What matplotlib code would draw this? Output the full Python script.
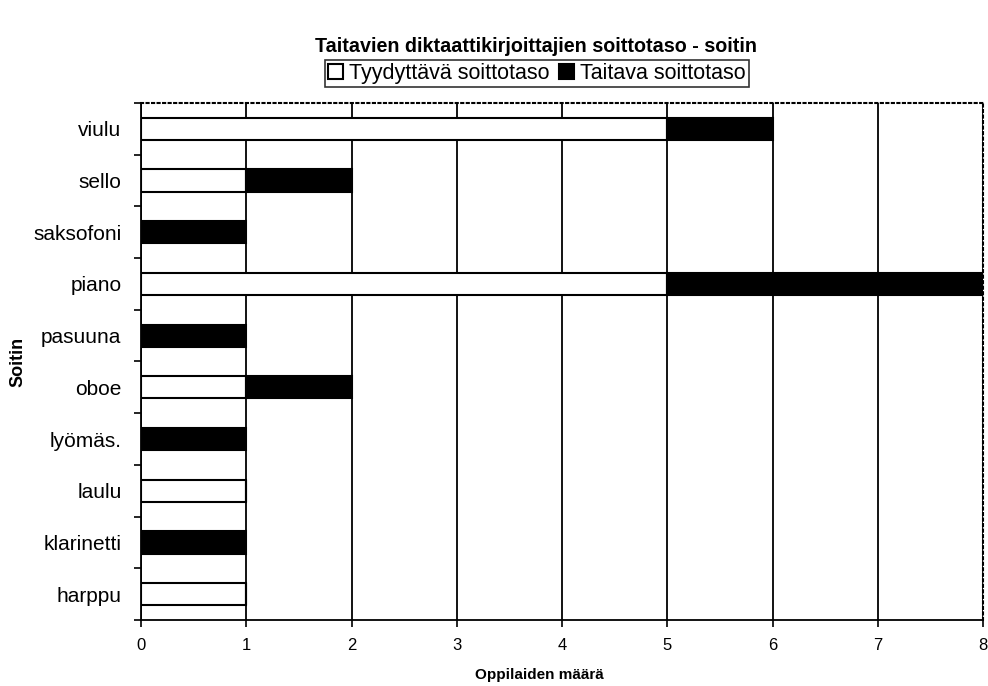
import numpy as np
import matplotlib
matplotlib.use("Agg")
import matplotlib.pyplot as plt

# Data (bottom to top)
soittimet = ["harppu", "klarinetti", "laulu", "lyömäs.", "oboe",
             "pasuuna", "piano", "saksofoni", "sello", "viulu"]
tyydyttava = [1, 0, 1, 0, 1, 0, 5, 0, 1, 5]
taitava = [0, 1, 0, 1, 1, 1, 3, 1, 1, 1]
x_ticks = [0, 1, 2, 3, 4, 5, 6, 7, 8]

plt.rcParams['font.family'] = ['Liberation Sans', 'DejaVu Sans']

fig = plt.figure(figsize=(9.88, 6.86), dpi=100)
ax = fig.add_axes([0.1427, 0.0962, 0.8523, 0.7537])

y = np.arange(len(soittimet))
h = 0.43
ax.barh(y, tyydyttava, height=h, color="white", edgecolor="black",
        linewidth=1.5, label="Tyydyttävä soittotaso", zorder=3)
ax.barh(y, taitava, left=tyydyttava, height=h, color="black",
        edgecolor="black", linewidth=1.5, label="Taitava soittotaso", zorder=3)

ax.set_xlim(0, 8)
ax.set_ylim(-0.5, len(soittimet) - 0.5)
ax.set_xticks(x_ticks)
ax.set_xticklabels([str(t) for t in x_ticks], fontsize=12)
ax.set_yticks(y)
ax.set_yticklabels(soittimet, fontsize=15)
ax.tick_params(axis="y", which="major", length=0, pad=14)
ax.set_yticks(np.arange(-0.5, len(soittimet)), minor=True)
ax.tick_params(axis="y", which="minor", length=5, width=1.2, direction="out")
ax.tick_params(axis="x", length=5, width=1.2, direction="out", pad=8)

ax.grid(axis="x", color="black", linewidth=1.3, zorder=1)
for s in ["left", "bottom"]:
    ax.spines[s].set_linewidth(1.3)
for s in ["top", "right"]:
    ax.spines[s].set_linestyle(":")
    ax.spines[s].set_linewidth(1.5)

fig.text(0.5455, 1 - 675 / 686, "Oppilaiden määrä", ha="center", va="center",
         fontsize=11, fontweight="bold")
fig.text(18 / 988, 1 - 362 / 686, "Soitin", ha="center", va="center",
         rotation=90, fontsize=13, fontweight="bold")

fig.text(0.543, 1 - 47 / 686, "Taitavien diktaattikirjoittajien soittotaso - soitin",
         ha="center", va="center", fontsize=14.2, fontweight="bold")

leg = ax.legend(loc="center", bbox_to_anchor=(0.47, 1.057), ncol=2,
                fontsize=15.5, frameon=True, fancybox=False, edgecolor="black",
                handlelength=0.7, handleheight=0.7, handletextpad=0.3,
                columnspacing=0.4, borderpad=0.15, borderaxespad=0)
leg.get_frame().set_linewidth(1.2)

fig.savefig("out.png", dpi=100, facecolor="white")
